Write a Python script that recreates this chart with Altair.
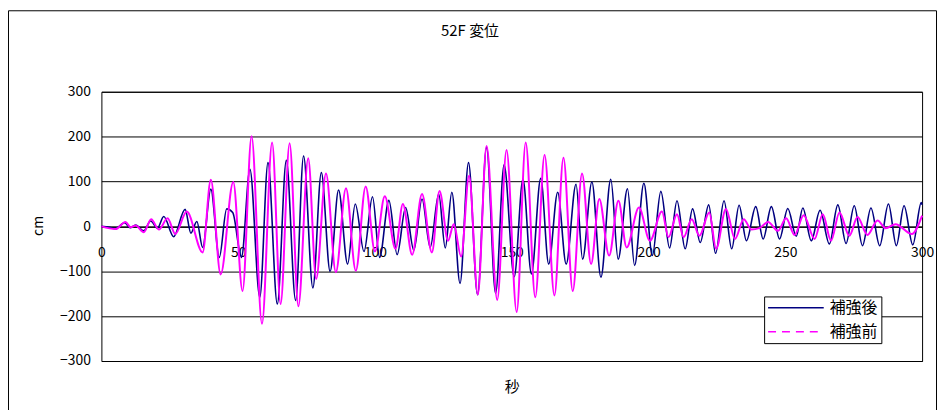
import altair as alt
import pandas as pd

FONT = "Noto Sans CJK JP"
TITLE = "52F 変位"
X_TITLE = "秒"
Y_TITLE = "cm"
SERIES = ["補強後", "補強前"]
COLORS = ["#000080", "#FF00FF"]
X_TICKS = [0, 50, 100, 150, 200, 250, 300]
Y_TICKS = [-300, -200, -100, 0, 100, 200, 300]

# 補強後 (after reinforcement) - peaks / troughs
t_after = [0, 3, 5, 8.5, 10.5, 12.5, 15.5, 18, 20.5, 22.8, 26.4, 30.6, 32.7, 34.9, 37, 40, 43.1, 45.8, 48,
           51.2, 54.3, 57.9, 60.9, 64.3, 67.6, 71, 73.9, 77.3, 80.4, 83.6, 86.7, 90, 92.8, 96, 99.1,
           101.7, 105.1, 108.1, 111.2, 114.2, 117.2, 120.2, 123.3, 125.7, 128.1, 131.1, 134.2, 137.5,
           140.8, 144.1, 147.2, 150.9, 154.1, 157.2, 160.6, 163.5, 166.8, 169.9, 173.5, 175.9, 179.3,
           182.6, 186.2, 188.9, 192.3, 194.9, 198.3, 201.4, 204.5, 207.7, 210.4, 213.4, 216.1, 218.9,
           222, 224.5, 227.6, 230.4, 233.1, 235.8, 239.2, 241.9, 244.9, 247.9, 250.9, 254, 256.4,
           259.5, 262.7, 266.1, 269.2, 272.2, 275.2, 278.2, 281.3, 284.5, 287.7, 290.6, 293.4, 296.6,
           299.7, 300]
v_after = [0, -2, -5, 8, -3, 3, -10, 12, -4, 22, -23, 38, -15, 11, -47, 83, -69, 39, 31,
           -69, 127, -158, 142, -173, 147, -165, 157, -137, 120, -100, 81, -84, 50, -56, 66,
           -69, 58, -63, 42, -53, 61, -47, 72, -48, 76, -127, 142, -152,
           176, -149, 137, -112, 105, -106, 107, -84, 76, -84, 94, -73, 99,
           -113, 105, -73, 84, -87, 96, -65, 78, -48, 57, -50, 39, -36,
           48, -60, 57, -50, 47, -32, 44, -28, 44, -28, 40, -22, 41,
           -32, 36, -39, 48, -38, 46, -43, 41, -43, 50, -43, 46, -41,
           53, 48]

# 補強前 (before reinforcement)
t_before = [0, 5.2, 8.8, 10.7, 12.5, 15.5, 18.2, 21, 24.2, 27, 31.2, 37, 40, 43.6, 48.2, 51.6, 54.9,
            58.7, 62.4, 65.5, 68.8, 72, 75.6, 78.5, 82.1, 85.7, 89.4, 93, 96.6, 100, 103.6, 107.5,
            110.2, 113.6, 117.2, 120.8, 123.6, 126.7, 128.8, 131.5, 134.4, 137.6, 140.8, 144.7, 148.1,
            151.8, 155.1, 158.6, 162, 165.6, 168.9, 172.3, 175.7, 179, 182, 185.6, 189, 192, 196.5,
            200.5, 204.9, 207.3, 210.4, 212.8, 215.8, 218.6, 222.2, 224.7, 228.3, 231.6, 234.8, 237.6,
            240.5, 243.7, 247.3, 250.3, 253.4, 256.7, 260.7, 263.7, 266.7, 269.8, 273.4, 276.4, 280,
            283.7, 286.7, 290.3, 296.2, 300]
v_before = [0, -6, 10, -2, 2, -13, 16, -7, 18, -17, 33, -58, 104, -107, 99, -144, 201,
            -217, 187, -173, 185, -178, 152, -117, 118, -102, 85, -99, 89, -56, 67, -50,
            50, -63, 72, -58, 79, -32, 5, -67, 113, -152, 179, -164, 170,
            -191, 187, -158, 159, -154, 153, -144, 118, -84, 61, -65, 57, -47, 42,
            -32, 33, -24, 27, -24, 16, -21, 31, -50, 39, -28, 16, -7,
            -4, 10, -10, 18, -19, 25, -28, 27, -32, 31, -21, 21, -19,
            13, -4, 5, -17, 24]

df_after = pd.DataFrame({"t": t_after, "v": v_after, "series": SERIES[0]})
df_before = pd.DataFrame({"t": t_before, "v": v_before, "series": SERIES[1]})
df_legend = pd.DataFrame({"t": [0, 0], "v": [0, 0], "series": SERIES})
one = pd.DataFrame({"k": [0]})

W, H = 826, 271
ZERO_Y = H / 2

color_scale = alt.Scale(domain=SERIES, range=COLORS)
dash_scale = alt.Scale(domain=SERIES, range=[[1, 0], [8, 6]])
x_scale = alt.Scale(domain=[0, 300], nice=False)
y_scale = alt.Scale(domain=[-300, 300], nice=False)

x_axis = alt.Axis(values=X_TICKS, grid=False, domain=True, domainColor="black", ticks=False,
                  offset=-ZERO_Y, labelFontSize=14, labelPadding=19, labelFlush=False,
                  labelColor="black", labelFont=FONT, title=X_TITLE, titleFont=FONT,
                  titleFontSize=15, titleFontWeight="normal", titleColor="black",
                  titleX=W / 2, titleY=388 - 91 - ZERO_Y, titleAlign="center",
                  titleBaseline="middle")
y_axis = alt.Axis(values=Y_TICKS, grid=True, gridColor="black", gridWidth=1, domain=False,
                  ticks=False, labelFontSize=14, labelPadding=11, labelColor="black",
                  labelFont=FONT, title=Y_TITLE, titleFont=FONT, titleFontSize=14,
                  titleFontWeight="normal", titleColor="black", titleX=-63, titleY=ZERO_Y - 1,
                  titleAlign="center", titleBaseline="middle", titleAngle=270)

X = alt.X("t:Q", scale=x_scale, axis=x_axis)
Y = alt.Y("v:Q", scale=y_scale, axis=y_axis)

legend_props = dict(title=None, orient="none", legendX=667, legendY=206, padding=3,
                    strokeColor="black", fillColor="white", cornerRadius=0,
                    symbolType="stroke", symbolSize=3136, symbolStrokeWidth=1.5,
                    clipHeight=17, rowPadding=7, labelFontSize=16, labelFont=FONT,
                    labelColor="black", labelOffset=5, labelLimit=200)
LEG = alt.Legend(**legend_props)
COLOR = alt.Color("series:N", scale=color_scale, legend=LEG)

border = alt.Chart(one).mark_rect(fill="white", fillOpacity=0, stroke="black",
                                  strokeWidth=1, clip=False).encode(
    x=alt.value(-93.5), x2=alt.value(840.5), y=alt.value(-81.5), y2=alt.value(340))

line_after = alt.Chart(df_after).mark_line(interpolate="monotone", strokeWidth=1.6).encode(
    x=X, y=Y, color=COLOR)

line_before = alt.Chart(df_before).mark_line(interpolate="monotone", strokeWidth=2).encode(
    x=X, y=Y, color=COLOR)

legend_layer = alt.Chart(df_legend).mark_line().encode(
    x=X, y=Y, color=COLOR,
    strokeDash=alt.StrokeDash("series:N", scale=dash_scale, legend=LEG),
).transform_filter("false")

title = alt.Chart(one).mark_text(text=TITLE, font=FONT, fontSize=15, color="black",
                                 align="center", baseline="middle").encode(
    x=alt.value(371), y=alt.value(-61))

chart = alt.layer(border, line_after, line_before, legend_layer, title).properties(
    width=W, height=H,
    autosize=alt.AutoSizeParams(type="none"),
    padding={"left": 94, "top": 83, "right": 15, "bottom": 48},
).configure(font=FONT, background="white").configure_view(stroke="black", strokeWidth=1)

chart.save("out.html", embed_options={"renderer": "svg", "actions": False})
